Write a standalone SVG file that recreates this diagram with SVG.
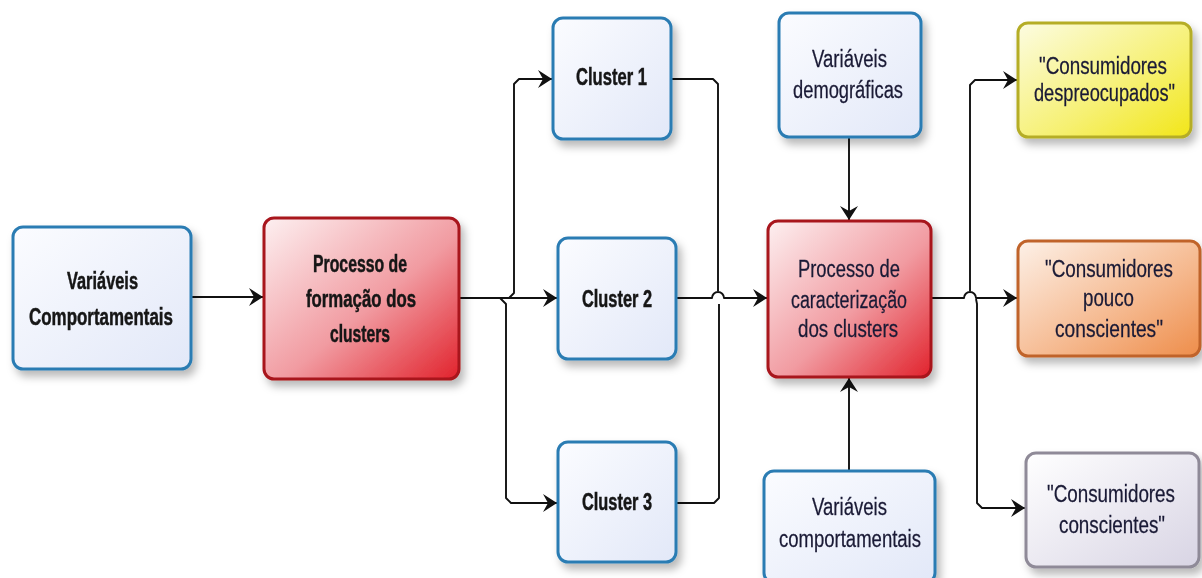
<svg xmlns="http://www.w3.org/2000/svg" width="1202" height="578" viewBox="0 0 1202 578">
<style>
.box{stroke-width:3}
.blue{fill:url(#gBlue);stroke:#2b7cb3}
.red{fill:url(#gRed);stroke:#a8121c}
.yellow{fill:url(#gYellow);stroke:#b5ad27}
.orange{fill:url(#gOrange);stroke:#c0642a}
.gray{fill:url(#gGray);stroke:#8f8a98}
.b{font-family:"Liberation Sans",Arial,sans-serif;font-weight:bold;font-size:17px;fill:#151515;stroke:#151515;stroke-width:0.35}
.r{font-family:"Liberation Sans",Arial,sans-serif;font-size:18.5px;fill:#1a1a35;stroke:#1a1a35;stroke-width:0.2}
.c{fill:none;stroke:#111;stroke-width:1.9;stroke-linejoin:round}
.a{marker-end:url(#arr)}
</style>
<defs>
<linearGradient id="gBlue" x1="0" y1="0" x2="1" y2="1"><stop offset="0" stop-color="#fbfcff"/><stop offset="1" stop-color="#e2e8f8"/></linearGradient>
<linearGradient id="gRed" x1="0" y1="0" x2="1" y2="1"><stop offset="0" stop-color="#fdf0f1"/><stop offset="0.55" stop-color="#f19ba1"/><stop offset="1" stop-color="#e1222c"/></linearGradient>
<linearGradient id="gYellow" x1="0" y1="0" x2="1" y2="1"><stop offset="0" stop-color="#fcfce2"/><stop offset="0.6" stop-color="#f6f070"/><stop offset="1" stop-color="#f2e618"/></linearGradient>
<linearGradient id="gOrange" x1="0" y1="0" x2="1" y2="1"><stop offset="0" stop-color="#fdf1e8"/><stop offset="0.6" stop-color="#f5b78c"/><stop offset="1" stop-color="#ee8d4a"/></linearGradient>
<linearGradient id="gGray" x1="0" y1="0" x2="1" y2="1"><stop offset="0" stop-color="#ffffff"/><stop offset="1" stop-color="#d8d4e4"/></linearGradient>
<filter id="sh" x="-20%" y="-20%" width="150%" height="150%"><feDropShadow dx="4" dy="6" stdDeviation="4" flood-color="#000" flood-opacity="0.28"/></filter>
<marker id="arr" viewBox="0 0 14 18" refX="14" refY="9" markerWidth="14" markerHeight="18" markerUnits="userSpaceOnUse" orient="auto"><path d="M0,0 L14,9 L0,18 L5,9 Z" fill="#111"/></marker>
</defs>

<g id="connectors">
<path class="c a" d="M192,297 H263"/>
<path class="c a" d="M459,298 H509 L514,293 V84 L519,79 H552"/>
<path class="c a" d="M459,298 H557"/>
<path class="c a" d="M500,298 L506,304 V498 L511,503 H557"/>
<path class="c" d="M672,79 H713 L718,84 V291"/>
<path class="c" d="M677,503 H714 L719,498 V304"/>
<path class="c a" d="M677,298 H712 A6,6 0 0 1 724,298 H767"/>
<path class="c a" d="M849,138 V220"/>
<path class="c a" d="M849,470 V378"/>
<path class="c a" d="M932,298 H964 A6,6 0 0 1 976,298 H1017"/>
<path class="c a" d="M970,291 V85 L975,80 H1017"/>
<path class="c a" d="M976,299 L977,304 V503 L982,508 H1025"/>
</g>

<g id="n_var_comp" filter="url(#sh)"><rect class="box blue" x="13" y="227" width="178" height="142" rx="10"/>
<text class="b" transform="translate(67,289) scale(1,1.4)" textLength="71" lengthAdjust="spacingAndGlyphs">Variáveis</text>
<text class="b" transform="translate(29,325) scale(1,1.4)" textLength="144" lengthAdjust="spacingAndGlyphs">Comportamentais</text></g>

<g id="n_formacao" filter="url(#sh)"><rect class="box red" x="264" y="218" width="195" height="161" rx="10"/>
<text class="b" transform="translate(313,272) scale(1,1.4)" textLength="94" lengthAdjust="spacingAndGlyphs">Processo de</text>
<text class="b" transform="translate(306,307) scale(1,1.4)" textLength="110" lengthAdjust="spacingAndGlyphs">formação dos</text>
<text class="b" transform="translate(330,342) scale(1,1.4)" textLength="60" lengthAdjust="spacingAndGlyphs">clusters</text></g>

<g id="n_cluster1" filter="url(#sh)"><rect class="box blue" x="553" y="18" width="118" height="121" rx="10"/>
<text class="b" transform="translate(576,85) scale(1,1.4)" textLength="71" lengthAdjust="spacingAndGlyphs">Cluster 1</text></g>

<g id="n_cluster2" filter="url(#sh)"><rect class="box blue" x="558" y="238" width="118" height="121" rx="10"/>
<text class="b" transform="translate(582,307) scale(1,1.4)" textLength="70" lengthAdjust="spacingAndGlyphs">Cluster 2</text></g>

<g id="n_cluster3" filter="url(#sh)"><rect class="box blue" x="558" y="442" width="118" height="120" rx="10"/>
<text class="b" transform="translate(582,510) scale(1,1.4)" textLength="70" lengthAdjust="spacingAndGlyphs">Cluster 3</text></g>

<g id="n_demog" filter="url(#sh)"><rect class="box blue" x="779" y="13" width="142" height="124" rx="10"/>
<text class="r" transform="translate(812,67) scale(1,1.33)" textLength="75" lengthAdjust="spacingAndGlyphs">Variáveis</text>
<text class="r" transform="translate(793,98) scale(1,1.33)" textLength="110" lengthAdjust="spacingAndGlyphs">demográficas</text></g>

<g id="n_caract" filter="url(#sh)"><rect class="box red" x="768" y="221" width="163" height="156" rx="10"/>
<text class="r" transform="translate(798,277) scale(1,1.33)" textLength="102" lengthAdjust="spacingAndGlyphs">Processo de</text>
<text class="r" transform="translate(791,308) scale(1,1.33)" textLength="116" lengthAdjust="spacingAndGlyphs">caracterização</text>
<text class="r" transform="translate(798,337) scale(1,1.33)" textLength="100" lengthAdjust="spacingAndGlyphs">dos clusters</text></g>

<g id="n_var_comport" filter="url(#sh)"><rect class="box blue" x="764" y="471" width="171" height="112" rx="10"/>
<text class="r" transform="translate(812,515) scale(1,1.33)" textLength="75" lengthAdjust="spacingAndGlyphs">Variáveis</text>
<text class="r" transform="translate(779,547) scale(1,1.33)" textLength="142" lengthAdjust="spacingAndGlyphs">comportamentais</text></g>

<g id="n_despreoc" filter="url(#sh)"><rect class="box yellow" x="1018" y="23" width="173" height="114" rx="10"/>
<text class="r" transform="translate(1039,74) scale(1,1.33)" textLength="128" lengthAdjust="spacingAndGlyphs">"Consumidores</text>
<text class="r" transform="translate(1034,101) scale(1,1.33)" textLength="141" lengthAdjust="spacingAndGlyphs">despreocupados"</text></g>

<g id="n_pouco" filter="url(#sh)"><rect class="box orange" x="1018" y="241" width="182" height="115" rx="10"/>
<text class="r" transform="translate(1045,277) scale(1,1.33)" textLength="128" lengthAdjust="spacingAndGlyphs">"Consumidores</text>
<text class="r" transform="translate(1083,306) scale(1,1.33)" textLength="51" lengthAdjust="spacingAndGlyphs">pouco</text>
<text class="r" transform="translate(1055,337) scale(1,1.33)" textLength="108" lengthAdjust="spacingAndGlyphs">conscientes"</text></g>

<g id="n_consc" filter="url(#sh)"><rect class="box gray" x="1026" y="453" width="173" height="114" rx="10"/>
<text class="r" transform="translate(1047,502) scale(1,1.33)" textLength="128" lengthAdjust="spacingAndGlyphs">"Consumidores</text>
<text class="r" transform="translate(1059,533) scale(1,1.33)" textLength="106" lengthAdjust="spacingAndGlyphs">conscientes"</text></g>
</svg>
